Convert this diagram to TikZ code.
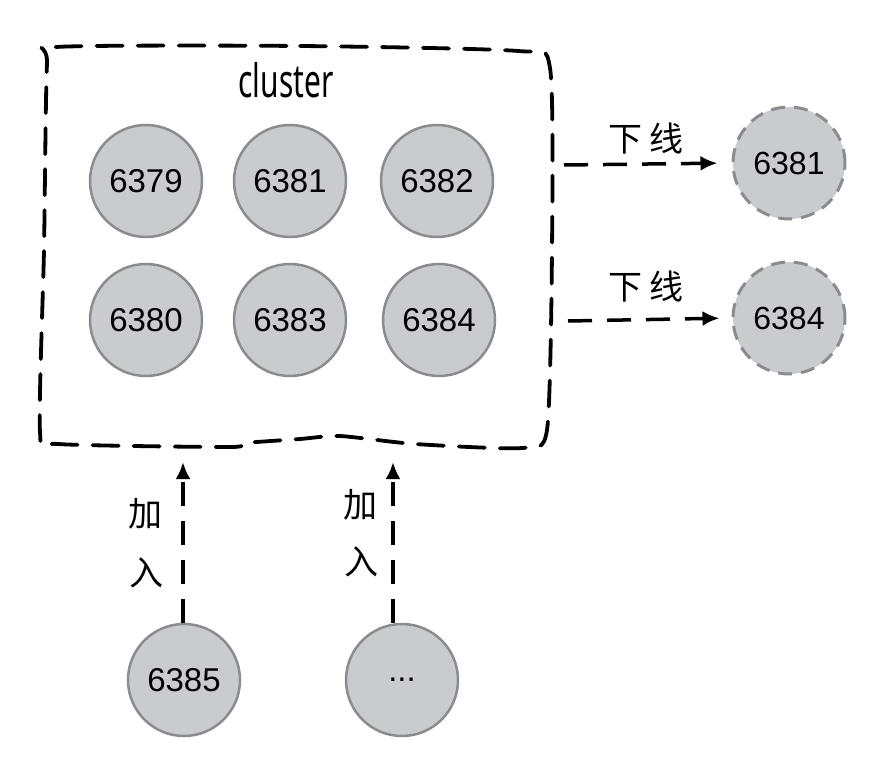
\documentclass[tikz,border=0pt]{standalone}
\usepackage{fontspec}
\usepackage{graphicx}
\setmainfont{Liberation Sans}
\newfontfamily\cjk{Noto Sans CJK SC}
\newfontfamily\handfont{Noto Sans}
\usetikzlibrary{arrows.meta}
\definecolor{nodefill}{HTML}{C9CBCE}
\definecolor{nodeline}{HTML}{8C8C8C}
\tikzset{
  srv/.style={circle, fill=nodefill, draw=nodeline, line width=2.5pt, minimum size=112pt, inner sep=0pt, font=\fontsize{33}{36}\selectfont},
  gone/.style={srv, dash pattern=on 14pt off 9pt, line width=3pt, font=\fontsize{32}{35}\selectfont},
  conn/.style={line width=3.5pt, dash pattern=on 24pt off 15pt, -{Latex[length=17pt,width=15pt]}},
  boxline/.style={line width=3.8pt, dash pattern=on 26pt off 15pt, line cap=round},
  cjklab/.style={font=\cjk\fontsize{34}{36}\selectfont, inner sep=0pt},
}
\begin{document}
\begin{tikzpicture}[x=1pt,y=-1pt]
\useasboundingbox (0,0) rectangle (871,765);
% cluster boundary (hand-drawn look)
\draw[boxline] plot[smooth cycle, tension=0.4] coordinates {
  (56,47) (300,46) (518,51) (550,68) (552,250) (547,430) (522,448)
  (415,444) (340,436) (300,439) (245,443) (230,447) (58,444)
  (40,432) (44,250) (47,64)};
\node[inner sep=0pt] (title) at (286,80) {\scalebox{0.68}[1.05]{\handfont\fontsize{44}{48}\selectfont cluster}};
% cluster members
\node[srv] (a6379) at (146,181) {6379};
\node[srv] (a6381) at (290,181) {6381};
\node[srv] (a6382) at (437,181) {6382};
\node[srv] (a6380) at (146,320) {6380};
\node[srv] (a6383) at (290,320) {6383};
\node[srv] (a6384) at (439,320) {6384};
% removed nodes
\node[gone] (r6381) at (789,163) {6381};
\node[gone] (r6384) at (789,318) {6384};
\coordinate (o1) at (564,165);
\coordinate (o2) at (568,321);
\draw[conn, shorten >=14pt] (o1) -- (r6381.west);
\draw[conn, shorten >=12pt] (o2) -- (r6384.west);
\node[cjklab] (l1) at (646,139) {下\hspace{7pt}线};
\node[cjklab] (l2) at (646,287) {下\hspace{7pt}线};
% joining nodes
\node[srv] (n6385) at (184,680) {6385};
\node[srv] (nmore) at (402,680) {...};
\coordinate (t1) at (183,462);
\coordinate (t2) at (393,462);
\draw[conn] (t1 |- n6385.north) -- (t1);
\draw[conn] (t2 |- nmore.north) -- (t2);
\node[cjklab] (j1a) at (145,514) {加};
\node[cjklab] (j1b) at (146,573) {入};
\node[cjklab] (j2a) at (360,505) {加};
\node[cjklab] (j2b) at (361,562) {入};
\end{tikzpicture}
\end{document}
